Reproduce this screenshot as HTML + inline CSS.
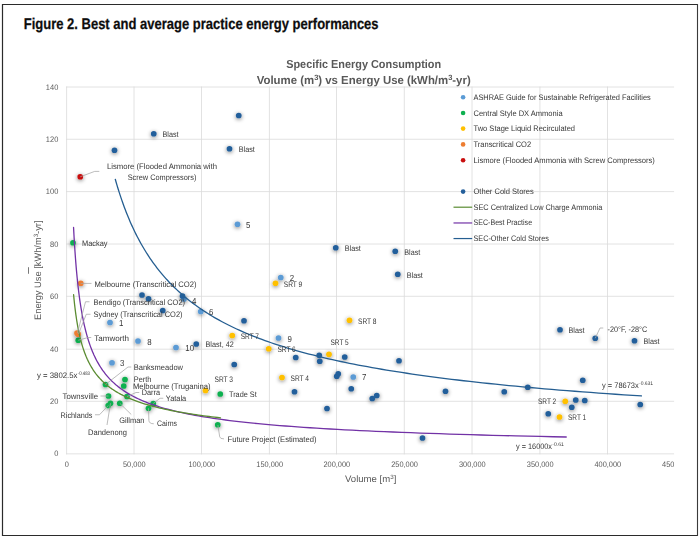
<!DOCTYPE html>
<html lang="en">
<head>
<meta charset="utf-8">
<title>Figure 2. Best and average practice energy performances</title>
<style>
html,body{margin:0;padding:0;background:#fff;}
body{width:700px;height:536px;overflow:hidden;}
svg{display:block;font-family:"Liberation Sans",Arial,sans-serif;text-rendering:geometricPrecision;}
</style>
</head>
<body>
<svg width="700" height="536" viewBox="0 0 700 536">
<defs>
<filter id="sh" x="0" y="0" width="700" height="536" filterUnits="userSpaceOnUse">
<feGaussianBlur in="SourceAlpha" stdDeviation="2" result="b"/>
<feOffset in="b" dx="0" dy="1.1" result="o"/>
<feComponentTransfer in="o" result="s"><feFuncA type="linear" slope="0.55"/></feComponentTransfer>
<feFlood flood-color="#000" result="f"/>
<feComposite in="f" in2="s" operator="in" result="sc"/>
<feMerge><feMergeNode in="sc"/><feMergeNode in="SourceGraphic"/></feMerge>
</filter>
<clipPath id="cp"><rect x="0" y="40" width="674.3" height="460"/></clipPath>
</defs>
<rect x="0" y="0" width="700" height="536" fill="#fff"/>
<path d="M2.5 4V536M2 4.5H698M2 535.7H698" stroke="#2b2b2b" stroke-width="1.2" fill="none"/><path d="M697.5 4V536" stroke="#3a3a3a" stroke-width="1.1" fill="none"/>
<text x="23.7" y="29" font-size="15.5" font-weight="bold" fill="#0d0d0d" stroke="#0d0d0d" stroke-width="0.25" textLength="354.9" lengthAdjust="spacingAndGlyphs">Figure 2. Best and average practice energy performances</text>
<g font-weight="bold" fill="#595959" font-size="11.6" text-anchor="middle" opacity="0.999">
<text x="363.7" y="68" textLength="155" lengthAdjust="spacingAndGlyphs">Specific Energy Consumption</text>
<text x="363.7" y="83.8" textLength="214" lengthAdjust="spacingAndGlyphs">Volume (m<tspan dy="-3.6" font-size="7.6">3</tspan><tspan dy="3.6">) vs Energy Use (kWh/m</tspan><tspan dy="-3.6" font-size="7.6">3</tspan><tspan dy="3.6">-yr)</tspan></text>
</g>
<g clip-path="url(#cp)" opacity="0.999"><g>
<path d="M66.60 86.50V454.35M134.00 86.50V454.35M201.50 86.50V454.35M269.40 86.50V454.35M336.50 86.50V454.35M404.30 86.50V454.35M472.00 86.50V454.35M539.90 86.50V454.35M607.50 86.50V454.35M66.10 453.85H674.25M66.10 401.30H674.25M66.10 349.20H674.25M66.10 296.30H674.25M66.10 244.00H674.25M66.10 191.60H674.25M66.10 139.25H674.25M66.10 87.00H674.25" stroke="#dadada" stroke-width="0.8" fill="none"/>
<g fill="#5b9bd5" filter="url(#sh)"><circle cx="237.5" cy="224.25" r="2.85"/><circle cx="280.75" cy="277.5" r="2.85"/><circle cx="200.75" cy="311.5" r="2.85"/><circle cx="184" cy="299" r="2.85"/><circle cx="110" cy="322.5" r="2.85"/><circle cx="138" cy="341" r="2.85"/><circle cx="176" cy="347.5" r="2.85"/><circle cx="112" cy="362.75" r="2.85"/><circle cx="278.5" cy="338" r="2.85"/><circle cx="353.25" cy="377" r="2.85"/></g>
<g fill="#0fb050" filter="url(#sh)"><circle cx="73" cy="242.75" r="2.85"/><circle cx="78.25" cy="340.25" r="2.85"/><circle cx="105.5" cy="384.5" r="2.85"/><circle cx="125" cy="379.5" r="2.85"/><circle cx="123.75" cy="386" r="2.85"/><circle cx="127" cy="396.5" r="2.85"/><circle cx="108.5" cy="396" r="2.85"/><circle cx="108.25" cy="405.5" r="2.85"/><circle cx="110.5" cy="403.25" r="2.85"/><circle cx="119.75" cy="403.25" r="2.85"/><circle cx="153.25" cy="403.5" r="2.85"/><circle cx="148.5" cy="408.25" r="2.85"/><circle cx="220.25" cy="394" r="2.85"/><circle cx="217.75" cy="424.75" r="2.85"/></g>
<g fill="#ffc000" filter="url(#sh)"><circle cx="275.5" cy="283.25" r="2.85"/><circle cx="349.5" cy="320.25" r="2.85"/><circle cx="232.25" cy="335.5" r="2.85"/><circle cx="268.75" cy="348.75" r="2.85"/><circle cx="329" cy="354.25" r="2.85"/><circle cx="282" cy="377.5" r="2.85"/><circle cx="205.5" cy="390.5" r="2.85"/><circle cx="565.25" cy="401.25" r="2.85"/><circle cx="559.5" cy="417" r="2.85"/></g>
<g fill="#ed7d31" filter="url(#sh)"><circle cx="80.75" cy="283.25" r="2.85"/><circle cx="77" cy="333" r="2.85"/><circle cx="78.2" cy="334.2" r="2.85"/></g>
<g fill="#c90f0f" filter="url(#sh)"><circle cx="80.25" cy="176.75" r="2.85"/></g>
<g fill="#245f9b" filter="url(#sh)"><circle cx="153.75" cy="133.75" r="2.85"/><circle cx="114.5" cy="150.25" r="2.85"/><circle cx="238.75" cy="115.5" r="2.85"/><circle cx="229.5" cy="148.75" r="2.85"/><circle cx="335.75" cy="247.75" r="2.85"/><circle cx="244" cy="320.75" r="2.85"/><circle cx="142" cy="295" r="2.85"/><circle cx="148.5" cy="298.75" r="2.85"/><circle cx="162.75" cy="310.5" r="2.85"/><circle cx="182.5" cy="296" r="2.85"/><circle cx="196.25" cy="344" r="2.85"/><circle cx="295.75" cy="357.5" r="2.85"/><circle cx="319.25" cy="355.25" r="2.85"/><circle cx="319.75" cy="361.25" r="2.85"/><circle cx="344.75" cy="357" r="2.85"/><circle cx="234.25" cy="364.5" r="2.85"/><circle cx="338.25" cy="373.75" r="2.85"/><circle cx="336.75" cy="376.25" r="2.85"/><circle cx="294.5" cy="391.75" r="2.85"/><circle cx="351.25" cy="388.75" r="2.85"/><circle cx="327" cy="408.5" r="2.85"/><circle cx="395.25" cy="251.25" r="2.85"/><circle cx="397.75" cy="274.25" r="2.85"/><circle cx="399" cy="360.75" r="2.85"/><circle cx="372.25" cy="398.5" r="2.85"/><circle cx="376.75" cy="395.5" r="2.85"/><circle cx="445.5" cy="391.25" r="2.85"/><circle cx="504.25" cy="391.75" r="2.85"/><circle cx="527.75" cy="387.25" r="2.85"/><circle cx="422.5" cy="438" r="2.85"/><circle cx="560" cy="329.75" r="2.85"/><circle cx="595.25" cy="338.25" r="2.85"/><circle cx="634.5" cy="340.75" r="2.85"/><circle cx="582.75" cy="380.25" r="2.85"/><circle cx="575.75" cy="400" r="2.85"/><circle cx="584.75" cy="400.5" r="2.85"/><circle cx="571.75" cy="407.25" r="2.85"/><circle cx="548.25" cy="413.75" r="2.85"/><circle cx="640.25" cy="404.5" r="2.85"/></g>
<polyline points="73.56,227.49 73.75,231.13 73.95,234.72 74.15,238.25 74.35,241.72 74.56,245.14 74.78,248.50 75.01,251.81 75.24,255.06 75.47,258.27 75.71,261.42 75.96,264.52 76.22,267.57 76.48,270.57 76.75,273.52 77.02,276.43 77.31,279.28 77.60,282.10 77.90,284.86 78.21,287.59 78.52,290.26 78.85,292.90 79.18,295.49 79.52,298.04 79.87,300.55 80.24,303.02 80.61,305.45 80.99,307.84 81.38,310.19 81.78,312.51 82.19,314.79 82.61,317.03 83.05,319.23 83.50,321.40 83.95,323.53 84.42,325.63 84.91,327.70 85.41,329.73 85.92,331.73 86.44,333.70 86.98,335.63 87.53,337.54 88.10,339.41 88.68,341.25 89.28,343.07 89.89,344.85 90.52,346.61 91.17,348.33 91.84,350.03 92.52,351.71 93.22,353.35 93.94,354.97 94.69,356.56 95.45,358.13 96.23,359.67 97.03,361.19 97.85,362.68 98.70,364.15 99.57,365.60 100.46,367.02 101.38,368.42 102.32,369.79 103.28,371.15 104.27,372.48 105.29,373.79 106.34,375.08 107.42,376.35 108.52,377.60 109.65,378.83 110.82,380.03 112.01,381.22 113.24,382.39 114.50,383.54 115.80,384.68 117.13,385.79 118.49,386.89 119.90,387.97 121.34,389.03 122.82,390.07 124.34,391.10 125.90,392.11 127.50,393.10 129.15,394.08 130.84,395.05 132.57,395.99 134.35,396.93 136.18,397.84 138.07,398.74 140.00,399.63 141.98,400.51 144.02,401.37 146.11,402.21 148.25,403.04 150.46,403.86 152.73,404.67 155.05,405.46 157.44,406.24 159.90,407.00 162.42,407.76 165.00,408.50 167.66,409.23 170.39,409.95 173.19,410.66 176.07,411.35 179.03,412.04 182.06,412.71 185.18,413.38 188.38,414.03 191.67,414.67 195.05,415.30 198.52,415.92 202.08,416.53 205.74,417.13 209.50,417.72 213.35,418.31 217.32,418.88 221.38,419.44 225.56,420.00 229.86,420.54 234.26,421.08 238.79,421.61 243.44,422.13 248.21,422.64 253.11,423.14 258.15,423.63 263.32,424.12 268.63,424.60 274.08,425.07 279.69,425.53 285.44,425.99 291.34,426.44 297.41,426.88 303.64,427.32 310.04,427.74 316.61,428.16 323.36,428.58 330.29,428.98 337.41,429.39 344.72,429.78 352.22,430.17 359.93,430.55 367.85,430.92 375.98,431.29 384.33,431.66 392.90,432.01 401.71,432.37 410.75,432.71 420.04,433.05 429.58,433.39 439.38,433.72 449.44,434.04 459.77,434.36 470.38,434.67 481.28,434.98 492.47,435.29 503.96,435.59 515.77,435.88 527.89,436.17 540.34,436.45 553.12,436.74 566.25,437.01" fill="none" stroke="#7232a6" stroke-width="1.3" stroke-linecap="round" stroke-linejoin="round"/>
<polyline points="73.60,294.74 73.74,296.21 73.88,297.67 74.02,299.11 74.17,300.54 74.32,301.96 74.47,303.36 74.62,304.76 74.78,306.13 74.94,307.50 75.11,308.85 75.27,310.19 75.44,311.52 75.62,312.84 75.79,314.14 75.97,315.43 76.16,316.71 76.35,317.98 76.54,319.24 76.73,320.48 76.93,321.71 77.13,322.94 77.34,324.15 77.55,325.34 77.76,326.53 77.98,327.71 78.21,328.88 78.43,330.03 78.66,331.18 78.90,332.31 79.14,333.43 79.39,334.55 79.64,335.65 79.89,336.74 80.15,337.83 80.42,338.90 80.69,339.96 80.96,341.01 81.24,342.06 81.53,343.09 81.82,344.11 82.12,345.13 82.42,346.13 82.73,347.13 83.05,348.12 83.37,349.09 83.70,350.06 84.03,351.02 84.37,351.97 84.72,352.91 85.07,353.85 85.43,354.77 85.80,355.69 86.17,356.60 86.56,357.50 86.95,358.39 87.34,359.27 87.75,360.14 88.16,361.01 88.58,361.87 89.01,362.72 89.45,363.56 89.89,364.40 90.35,365.22 90.81,366.04 91.28,366.85 91.76,367.66 92.25,368.45 92.75,369.24 93.26,370.03 93.78,370.80 94.31,371.57 94.85,372.33 95.40,373.08 95.96,373.83 96.54,374.57 97.12,375.30 97.71,376.03 98.32,376.75 98.94,377.46 99.57,378.17 100.21,378.87 100.86,379.56 101.53,380.25 102.21,380.93 102.90,381.60 103.61,382.27 104.33,382.93 105.07,383.59 105.81,384.24 106.58,384.88 107.36,385.52 108.15,386.15 108.96,386.78 109.78,387.40 110.62,388.01 111.48,388.62 112.35,389.22 113.24,389.82 114.15,390.41 115.08,391.00 116.02,391.58 116.98,392.16 117.96,392.73 118.96,393.29 119.98,393.85 121.02,394.41 122.08,394.95 123.15,395.50 124.25,396.04 125.38,396.57 126.52,397.10 127.68,397.63 128.87,398.15 130.08,398.66 131.32,399.17 132.58,399.68 133.86,400.18 135.17,400.67 136.50,401.17 137.86,401.65 139.25,402.14 140.66,402.61 142.10,403.09 143.57,403.56 145.06,404.02 146.59,404.48 148.14,404.94 149.73,405.39 151.34,405.84 152.99,406.28 154.67,406.72 156.38,407.16 158.13,407.59 159.91,408.02 161.72,408.44 163.57,408.86 165.45,409.28 167.38,409.69 169.33,410.10 171.33,410.50 173.37,410.90 175.44,411.30 177.56,411.69 179.71,412.08 181.91,412.47 184.15,412.85 186.44,413.23 188.76,413.61 191.14,413.98 193.56,414.35 196.03,414.71 198.54,415.07 201.10,415.43 203.72,415.79 206.38,416.14 209.10,416.49 211.87,416.83 214.69,417.18 217.57,417.52 220.50,417.85" fill="none" stroke="#5b8c32" stroke-width="1.3" stroke-linecap="round" stroke-linejoin="round"/>
<polyline points="115.30,179.30 116.06,181.95 116.83,184.59 117.61,187.19 118.40,189.77 119.21,192.33 120.03,194.86 120.86,197.37 121.71,199.85 122.56,202.31 123.43,204.75 124.32,207.16 125.22,209.55 126.13,211.91 127.06,214.25 128.00,216.57 128.95,218.87 129.92,221.14 130.91,223.40 131.91,225.63 132.92,227.84 133.96,230.03 135.00,232.19 136.07,234.34 137.15,236.46 138.25,238.57 139.36,240.65 140.49,242.72 141.64,244.76 142.81,246.78 144.00,248.79 145.20,250.77 146.42,252.74 147.66,254.69 148.93,256.61 150.21,258.52 151.51,260.41 152.83,262.29 154.17,264.14 155.53,265.98 156.91,267.80 158.32,269.60 159.74,271.38 161.19,273.15 162.66,274.90 164.16,276.63 165.68,278.35 167.22,280.04 168.78,281.73 170.37,283.39 171.98,285.04 173.62,286.68 175.29,288.30 176.98,289.90 178.69,291.49 180.44,293.06 182.21,294.61 184.00,296.16 185.83,297.68 187.68,299.19 189.57,300.69 191.48,302.17 193.42,303.64 195.39,305.10 197.39,306.54 199.43,307.96 201.49,309.37 203.59,310.77 205.72,312.16 207.88,313.53 210.08,314.89 212.31,316.23 214.57,317.57 216.88,318.88 219.21,320.19 221.58,321.49 223.99,322.77 226.44,324.04 228.93,325.29 231.45,326.54 234.01,327.77 236.61,328.99 239.26,330.20 241.94,331.40 244.67,332.58 247.43,333.76 250.25,334.92 253.10,336.07 256.00,337.21 258.94,338.34 261.93,339.46 264.97,340.56 268.05,341.66 271.18,342.75 274.36,343.82 277.59,344.89 280.87,345.94 284.20,346.99 287.58,348.02 291.02,349.05 294.51,350.06 298.05,351.07 301.65,352.06 305.30,353.05 309.01,354.02 312.78,354.99 316.60,355.94 320.49,356.89 324.44,357.83 328.44,358.76 332.51,359.68 336.65,360.59 340.84,361.50 345.10,362.39 349.43,363.28 353.83,364.15 358.29,365.02 362.83,365.88 367.43,366.73 372.11,367.58 376.85,368.41 381.67,369.24 386.57,370.06 391.54,370.87 396.59,371.67 401.72,372.47 406.93,373.25 412.22,374.03 417.59,374.81 423.04,375.57 428.58,376.33 434.21,377.08 439.92,377.82 445.72,378.56 451.61,379.29 457.60,380.01 463.67,380.73 469.84,381.43 476.11,382.13 482.47,382.83 488.94,383.52 495.50,384.20 502.16,384.87 508.93,385.54 515.81,386.20 522.79,386.86 529.88,387.50 537.08,388.15 544.39,388.78 551.81,389.41 559.35,390.04 567.01,390.65 574.78,391.27 582.68,391.87 590.70,392.47 598.84,393.07 607.11,393.65 615.51,394.24 624.04,394.81 632.70,395.39 641.50,395.95" fill="none" stroke="#255e91" stroke-width="1.3" stroke-linecap="round" stroke-linejoin="round"/>
<path d="M80.25 176.75L94.7 171.4H99.3M80.75 283.4H91.5M89.5 301.75H85.5L77.5 333M90.5 314.25H86.25L78.5 334M91.25 337.5H88L78.25 340.25M131.25 367H128L105.5 384.5M139.25 392.5H136L127 396.5M100.5 396H108.5M95 414.75H99.5L108.25 405.5M110.5 403.25L107 425M119.75 403.25L131.25 414.5M163.25 398.25H160L153.25 403.5M148.5 408.25L148.9 420.5Q149.2 423.75 153.75 423.75M217.9 425L219.7 436.8Q220 438.9 224 438.9M603.25 328H600L595.25 338.25" stroke="#a6a6a6" stroke-width="0.75" fill="none"/>
<text x="162.50" y="137.00" font-size="8.0" fill="#363636" text-anchor="start" textLength="16.00" lengthAdjust="spacingAndGlyphs">Blast</text>
<text x="238.75" y="152.00" font-size="8.0" fill="#363636" text-anchor="start" textLength="16.00" lengthAdjust="spacingAndGlyphs">Blast</text>
<text x="344.75" y="251.00" font-size="8.0" fill="#363636" text-anchor="start" textLength="16.00" lengthAdjust="spacingAndGlyphs">Blast</text>
<text x="404.25" y="254.75" font-size="8.0" fill="#363636" text-anchor="start" textLength="16.00" lengthAdjust="spacingAndGlyphs">Blast</text>
<text x="406.75" y="277.50" font-size="8.0" fill="#363636" text-anchor="start" textLength="16.00" lengthAdjust="spacingAndGlyphs">Blast</text>
<text x="568.50" y="333.25" font-size="8.0" fill="#363636" text-anchor="start" textLength="16.00" lengthAdjust="spacingAndGlyphs">Blast</text>
<text x="643.50" y="344.25" font-size="8.0" fill="#363636" text-anchor="start" textLength="16.00" lengthAdjust="spacingAndGlyphs">Blast</text>
<text x="205.50" y="347.00" font-size="8.0" fill="#363636" text-anchor="start" textLength="28.25" lengthAdjust="spacingAndGlyphs">Blast, 42</text>
<text x="82.00" y="245.75" font-size="8.0" fill="#363636" text-anchor="start" textLength="25.50" lengthAdjust="spacingAndGlyphs">Mackay</text>
<text x="94.50" y="286.50" font-size="8.0" fill="#363636" text-anchor="start" textLength="102.00" lengthAdjust="spacingAndGlyphs">Melbourne (Transcritical CO2)</text>
<text x="93.50" y="305.25" font-size="8.0" fill="#363636" text-anchor="start" textLength="91.50" lengthAdjust="spacingAndGlyphs">Bendigo (Transcritical CO2)</text>
<text x="93.50" y="317.25" font-size="8.0" fill="#363636" text-anchor="start" textLength="89.00" lengthAdjust="spacingAndGlyphs">Sydney (Transcritical CO2)</text>
<text x="94.25" y="340.85" font-size="8.0" fill="#363636" text-anchor="start" textLength="34.75" lengthAdjust="spacingAndGlyphs">Tamworth</text>
<text x="133.75" y="370.00" font-size="8.0" fill="#363636" text-anchor="start" textLength="49.25" lengthAdjust="spacingAndGlyphs">Banksmeadow</text>
<text x="133.75" y="382.00" font-size="8.0" fill="#363636" text-anchor="start" textLength="17.50" lengthAdjust="spacingAndGlyphs">Perth</text>
<text x="133.00" y="389.05" font-size="8.0" fill="#363636" text-anchor="start" textLength="77.50" lengthAdjust="spacingAndGlyphs">Melbourne (Truganina)</text>
<text x="141.75" y="394.75" font-size="8.0" fill="#363636" text-anchor="start" textLength="18.25" lengthAdjust="spacingAndGlyphs">Darra</text>
<text x="62.50" y="399.00" font-size="8.0" fill="#363636" text-anchor="start" textLength="35.50" lengthAdjust="spacingAndGlyphs">Townsville</text>
<text x="60.50" y="417.50" font-size="8.0" fill="#363636" text-anchor="start" textLength="32.00" lengthAdjust="spacingAndGlyphs">Richlands</text>
<text x="88.00" y="435.00" font-size="8.0" fill="#363636" text-anchor="start" textLength="39.00" lengthAdjust="spacingAndGlyphs">Dandenong</text>
<text x="119.25" y="423.00" font-size="8.0" fill="#363636" text-anchor="start" textLength="25.25" lengthAdjust="spacingAndGlyphs">Gillman</text>
<text x="165.75" y="401.00" font-size="8.0" fill="#363636" text-anchor="start" textLength="20.50" lengthAdjust="spacingAndGlyphs">Yatala</text>
<text x="157.00" y="426.05" font-size="8.0" fill="#363636" text-anchor="start" textLength="20.00" lengthAdjust="spacingAndGlyphs">Cairns</text>
<text x="229.00" y="396.75" font-size="8.0" fill="#363636" text-anchor="start" textLength="27.75" lengthAdjust="spacingAndGlyphs">Trade St</text>
<text x="227.50" y="442.00" font-size="8.0" fill="#363636" text-anchor="start" textLength="89.00" lengthAdjust="spacingAndGlyphs">Future Project (Estimated)</text>
<text x="283.75" y="286.75" font-size="8.0" fill="#363636" text-anchor="start" textLength="18.50" lengthAdjust="spacingAndGlyphs">SRT 9</text>
<text x="358.00" y="323.75" font-size="8.0" fill="#363636" text-anchor="start" textLength="18.50" lengthAdjust="spacingAndGlyphs">SRT 8</text>
<text x="240.75" y="338.75" font-size="8.0" fill="#363636" text-anchor="start" textLength="18.25" lengthAdjust="spacingAndGlyphs">SRT 7</text>
<text x="277.50" y="352.00" font-size="8.0" fill="#363636" text-anchor="start" textLength="18.25" lengthAdjust="spacingAndGlyphs">SRT 6</text>
<text x="330.50" y="344.75" font-size="8.0" fill="#363636" text-anchor="start" textLength="18.25" lengthAdjust="spacingAndGlyphs">SRT 5</text>
<text x="290.50" y="380.75" font-size="8.0" fill="#363636" text-anchor="start" textLength="18.50" lengthAdjust="spacingAndGlyphs">SRT 4</text>
<text x="214.50" y="381.50" font-size="8.0" fill="#363636" text-anchor="start" textLength="18.50" lengthAdjust="spacingAndGlyphs">SRT 3</text>
<text x="538.00" y="403.50" font-size="8.0" fill="#363636" text-anchor="start" textLength="18.25" lengthAdjust="spacingAndGlyphs">SRT 2</text>
<text x="568.00" y="420.25" font-size="8.0" fill="#363636" text-anchor="start" textLength="18.25" lengthAdjust="spacingAndGlyphs">SRT 1</text>
<text x="607.50" y="331.50" font-size="8.0" fill="#363636" text-anchor="start" textLength="39.75" lengthAdjust="spacingAndGlyphs">-20°F, -28°C</text>
<text x="246.00" y="228.19" font-size="8.7" fill="#363636" text-anchor="start" textLength="4.39" lengthAdjust="spacingAndGlyphs">5</text>
<text x="289.75" y="280.94" font-size="8.7" fill="#363636" text-anchor="start" textLength="4.39" lengthAdjust="spacingAndGlyphs">2</text>
<text x="209.00" y="315.44" font-size="8.7" fill="#363636" text-anchor="start" textLength="4.39" lengthAdjust="spacingAndGlyphs">6</text>
<text x="192.00" y="304.44" font-size="8.7" fill="#363636" text-anchor="start" textLength="4.39" lengthAdjust="spacingAndGlyphs">4</text>
<text x="119.00" y="326.19" font-size="8.7" fill="#363636" text-anchor="start" textLength="4.39" lengthAdjust="spacingAndGlyphs">1</text>
<text x="147.25" y="344.69" font-size="8.7" fill="#363636" text-anchor="start" textLength="4.39" lengthAdjust="spacingAndGlyphs">8</text>
<text x="185.25" y="351.19" font-size="8.7" fill="#363636" text-anchor="start" textLength="8.79" lengthAdjust="spacingAndGlyphs">10</text>
<text x="120.00" y="366.19" font-size="8.7" fill="#363636" text-anchor="start" textLength="4.39" lengthAdjust="spacingAndGlyphs">3</text>
<text x="287.50" y="342.19" font-size="8.7" fill="#363636" text-anchor="start" textLength="4.39" lengthAdjust="spacingAndGlyphs">9</text>
<text x="362.00" y="380.44" font-size="8.7" fill="#363636" text-anchor="start" textLength="4.39" lengthAdjust="spacingAndGlyphs">7</text>
<text x="162.00" y="169.25" font-size="8.0" fill="#363636" text-anchor="middle" textLength="110.00" lengthAdjust="spacingAndGlyphs">Lismore (Flooded Ammonia with</text>
<text x="162.00" y="180.00" font-size="8.0" fill="#363636" text-anchor="middle" textLength="68.75" lengthAdjust="spacingAndGlyphs">Screw Compressors)</text>
<text x="37.00" y="378.30" font-size="8" fill="#363636" textLength="40.50" lengthAdjust="spacingAndGlyphs">y = 3802.5x</text>
<text x="77.80" y="375.10" font-size="5.2" fill="#363636" textLength="12.20" lengthAdjust="spacingAndGlyphs">-0.483</text>
<text x="602.00" y="388.10" font-size="8" fill="#363636" textLength="36.75" lengthAdjust="spacingAndGlyphs">y = 78673x</text>
<text x="639.05" y="384.90" font-size="5.2" fill="#363636" textLength="14.00" lengthAdjust="spacingAndGlyphs">-0.631</text>
<text x="516.00" y="448.70" font-size="8" fill="#363636" textLength="36.00" lengthAdjust="spacingAndGlyphs">y = 16000x</text>
<text x="552.30" y="445.50" font-size="5.2" fill="#363636" textLength="11.50" lengthAdjust="spacingAndGlyphs">-0.61</text>
<circle cx="463.1" cy="97.2" r="2.3" fill="#5b9bd5"/>
<text x="473.50" y="99.85" font-size="8.0" fill="#363636" text-anchor="start" textLength="177.30" lengthAdjust="spacingAndGlyphs">ASHRAE Guide for Sustainable Refrigerated Facilities</text>
<circle cx="463.1" cy="113.0" r="2.3" fill="#0fb050"/>
<text x="473.50" y="115.65" font-size="8.0" fill="#363636" text-anchor="start" textLength="89.10" lengthAdjust="spacingAndGlyphs">Central Style DX Ammonia</text>
<circle cx="463.1" cy="128.6" r="2.3" fill="#ffc000"/>
<text x="473.50" y="131.25" font-size="8.0" fill="#363636" text-anchor="start" textLength="101.50" lengthAdjust="spacingAndGlyphs">Two Stage Liquid Recirculated</text>
<circle cx="463.1" cy="144.4" r="2.3" fill="#ed7d31"/>
<text x="473.50" y="147.05" font-size="8.0" fill="#363636" text-anchor="start" textLength="57.60" lengthAdjust="spacingAndGlyphs">Transcritical CO2</text>
<circle cx="463.1" cy="160.2" r="2.3" fill="#c90f0f"/>
<text x="473.50" y="162.85" font-size="8.0" fill="#363636" text-anchor="start" textLength="181.40" lengthAdjust="spacingAndGlyphs">Lismore (Flooded Ammonia with Screw Compressors)</text>
<circle cx="463.1" cy="191.6" r="2.3" fill="#245f9b"/>
<text x="473.50" y="194.25" font-size="8.0" fill="#363636" text-anchor="start" textLength="60.30" lengthAdjust="spacingAndGlyphs">Other Cold Stores</text>
<path d="M453.5 207.2H472.2" stroke="#5b8c32" stroke-width="1.2"/>
<text x="473.50" y="209.55" font-size="8.0" fill="#363636" text-anchor="start" textLength="128.90" lengthAdjust="spacingAndGlyphs">SEC Centralized Low Charge Ammonia</text>
<path d="M453.5 222.97H472.2" stroke="#7232a6" stroke-width="1.2"/>
<text x="473.50" y="225.32" font-size="8.0" fill="#363636" text-anchor="start" textLength="58.60" lengthAdjust="spacingAndGlyphs">SEC-Best Practise</text>
<path d="M453.5 238.55H472.2" stroke="#255e91" stroke-width="1.2"/>
<text x="473.50" y="240.90" font-size="8.0" fill="#363636" text-anchor="start" textLength="75.40" lengthAdjust="spacingAndGlyphs">SEC-Other Cold Stores</text>
<text x="58.30" y="456.40" font-size="8" fill="#595959" text-anchor="end" textLength="4.14" lengthAdjust="spacingAndGlyphs">0</text>
<text x="58.30" y="403.85" font-size="8" fill="#595959" text-anchor="end" textLength="8.29" lengthAdjust="spacingAndGlyphs">20</text>
<text x="58.30" y="351.75" font-size="8" fill="#595959" text-anchor="end" textLength="8.29" lengthAdjust="spacingAndGlyphs">40</text>
<text x="58.30" y="298.85" font-size="8" fill="#595959" text-anchor="end" textLength="8.29" lengthAdjust="spacingAndGlyphs">60</text>
<text x="58.30" y="246.55" font-size="8" fill="#595959" text-anchor="end" textLength="8.29" lengthAdjust="spacingAndGlyphs">80</text>
<text x="58.30" y="194.15" font-size="8" fill="#595959" text-anchor="end" textLength="12.43" lengthAdjust="spacingAndGlyphs">100</text>
<text x="58.30" y="141.80" font-size="8" fill="#595959" text-anchor="end" textLength="12.43" lengthAdjust="spacingAndGlyphs">120</text>
<text x="58.30" y="89.55" font-size="8" fill="#595959" text-anchor="end" textLength="12.43" lengthAdjust="spacingAndGlyphs">140</text>
<text x="66.90" y="466.75" font-size="8" fill="#595959" text-anchor="middle" textLength="4.12" lengthAdjust="spacingAndGlyphs">0</text>
<text x="134.30" y="466.75" font-size="8" fill="#595959" text-anchor="middle" textLength="22.63" lengthAdjust="spacingAndGlyphs">50,000</text>
<text x="201.80" y="466.75" font-size="8" fill="#595959" text-anchor="middle" textLength="26.75" lengthAdjust="spacingAndGlyphs">100,000</text>
<text x="269.70" y="466.75" font-size="8" fill="#595959" text-anchor="middle" textLength="26.75" lengthAdjust="spacingAndGlyphs">150,000</text>
<text x="336.80" y="466.75" font-size="8" fill="#595959" text-anchor="middle" textLength="26.75" lengthAdjust="spacingAndGlyphs">200,000</text>
<text x="404.60" y="466.75" font-size="8" fill="#595959" text-anchor="middle" textLength="26.75" lengthAdjust="spacingAndGlyphs">250,000</text>
<text x="472.30" y="466.75" font-size="8" fill="#595959" text-anchor="middle" textLength="26.75" lengthAdjust="spacingAndGlyphs">300,000</text>
<text x="540.20" y="466.75" font-size="8" fill="#595959" text-anchor="middle" textLength="26.75" lengthAdjust="spacingAndGlyphs">350,000</text>
<text x="607.80" y="466.75" font-size="8" fill="#595959" text-anchor="middle" textLength="26.75" lengthAdjust="spacingAndGlyphs">400,000</text>
<text x="675.40" y="466.75" font-size="8" fill="#595959" text-anchor="middle" textLength="26.75" lengthAdjust="spacingAndGlyphs">450,000</text>
<text x="370.7" y="482.3" font-size="9.4" fill="#595959" text-anchor="middle" textLength="51.4" lengthAdjust="spacingAndGlyphs">Volume [m<tspan dy="-3" font-size="6.2">3</tspan><tspan dy="3">]</tspan></text>
<g transform="translate(37 270.25) rotate(-90)">
<text x="0" y="3.6" font-size="9.4" fill="#595959" text-anchor="middle" textLength="99.5" lengthAdjust="spacingAndGlyphs">Energy Use [kWh/m<tspan dy="-3" font-size="6.2">3</tspan><tspan dy="3">-yr]</tspan></text>
</g>
<path d="M28.5 267.6V273.4" stroke="#6a6a6a" stroke-width="0.9" stroke-linecap="round"/>
</g></g>
</svg>
</body>
</html>
